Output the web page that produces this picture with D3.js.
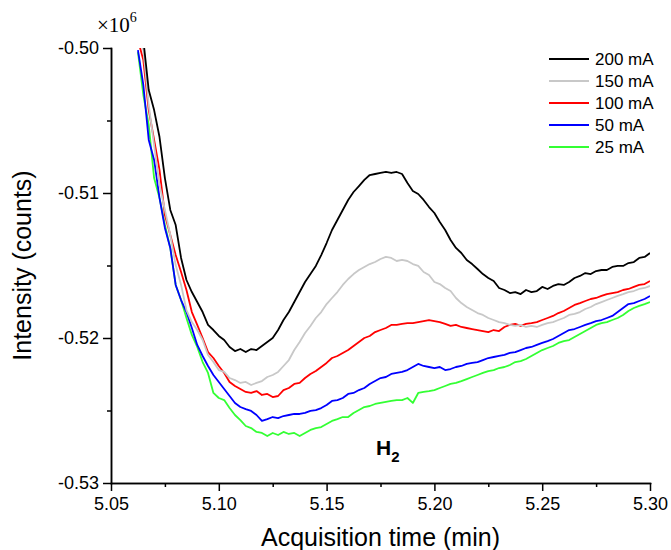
<!DOCTYPE html>
<html>
<head>
<meta charset="utf-8">
<script src="https://cdn.jsdelivr.net/npm/d3@7"></script>
<style>
  html, body { margin: 0; padding: 0; background: #fff; }
  svg { display: block; font-family: "Liberation Sans", Arial, sans-serif; }
  .axis path, .axis line { stroke: #000; stroke-width: 1.5; }
  .axis text { fill: #000; font-size: 18px; }
</style>
</head>
<body>
<div id="chart"></div>
<script>
// Acquisition time grid (min), values in units of 10^6 counts
const times = [
  5.0625, 5.065, 5.0675, 5.07, 5.0725, 5.075, 5.0775, 5.08, 5.0825, 5.085,
  5.0875, 5.09, 5.0925, 5.095, 5.0975, 5.1, 5.1025, 5.105, 5.1075, 5.11,
  5.1125, 5.115, 5.1175, 5.12, 5.1225, 5.125, 5.1275, 5.13, 5.1325, 5.135,
  5.1375, 5.14, 5.1425, 5.145, 5.1475, 5.15, 5.1525, 5.155, 5.1575, 5.16,
  5.1625, 5.165, 5.1675, 5.17, 5.1725, 5.175, 5.1775, 5.18, 5.1825, 5.185,
  5.1875, 5.19, 5.1925, 5.195, 5.1975, 5.2, 5.2025, 5.205, 5.2075, 5.21,
  5.2125, 5.215, 5.2175, 5.22, 5.2225, 5.225, 5.2275, 5.23, 5.2325, 5.235,
  5.2375, 5.24, 5.2425, 5.245, 5.2475, 5.25, 5.2525, 5.255, 5.2575, 5.26,
  5.2625, 5.265, 5.2675, 5.27, 5.2725, 5.275, 5.2775, 5.28, 5.2825, 5.285,
  5.2875, 5.29, 5.2925, 5.295, 5.2975, 5.3
];

const i200 = [
  -0.49841, -0.49945, -0.50290, -0.50428, -0.50614, -0.50897, -0.51117, -0.51221, -0.51448, -0.51600,
  -0.51683, -0.51752, -0.51821, -0.51910, -0.51945, -0.51986, -0.52014, -0.52062, -0.52090, -0.52076,
  -0.52097, -0.52076, -0.52083, -0.52055, -0.52028, -0.52000, -0.51945, -0.51876, -0.51821, -0.51752,
  -0.51683, -0.51614, -0.51559, -0.51503, -0.51428, -0.51345, -0.51255, -0.51186, -0.51117, -0.51048,
  -0.50993, -0.50952, -0.50910, -0.50876, -0.50869, -0.50862, -0.50855, -0.50862, -0.50855, -0.50869,
  -0.50931, -0.50986, -0.51007, -0.51048, -0.51097, -0.51138, -0.51200, -0.51255, -0.51324, -0.51379,
  -0.51414, -0.51462, -0.51490, -0.51524, -0.51559, -0.51586, -0.51607, -0.51655, -0.51669, -0.51690,
  -0.51683, -0.51697, -0.51669, -0.51683, -0.51676, -0.51648, -0.51662, -0.51641, -0.51628, -0.51634,
  -0.51614, -0.51586, -0.51572, -0.51552, -0.51559, -0.51538, -0.51531, -0.51531, -0.51510, -0.51503,
  -0.51503, -0.51483, -0.51476, -0.51448, -0.51441, -0.51414
];

const i150 = [
  -0.49910, -0.50014, -0.50393, -0.50669, -0.50945, -0.51117, -0.51290, -0.51497, -0.51634, -0.51807,
  -0.51890, -0.51945, -0.52014, -0.52117, -0.52166, -0.52221, -0.52234, -0.52276, -0.52290, -0.52310,
  -0.52303, -0.52324, -0.52310, -0.52297, -0.52269, -0.52255, -0.52234, -0.52193, -0.52152, -0.52083,
  -0.52028, -0.51966, -0.51917, -0.51862, -0.51821, -0.51766, -0.51724, -0.51683, -0.51634, -0.51593,
  -0.51559, -0.51531, -0.51510, -0.51490, -0.51476, -0.51455, -0.51441, -0.51448, -0.51469, -0.51462,
  -0.51469, -0.51490, -0.51503, -0.51545, -0.51566, -0.51614, -0.51628, -0.51655, -0.51676, -0.51724,
  -0.51759, -0.51786, -0.51807, -0.51828, -0.51841, -0.51862, -0.51876, -0.51890, -0.51897, -0.51910,
  -0.51917, -0.51910, -0.51924, -0.51917, -0.51924, -0.51910, -0.51897, -0.51890, -0.51876, -0.51862,
  -0.51841, -0.51834, -0.51821, -0.51800, -0.51786, -0.51766, -0.51752, -0.51738, -0.51724, -0.51710,
  -0.51697, -0.51683, -0.51676, -0.51662, -0.51655, -0.51641
];

const i100 = [
  -0.49945, -0.50083, -0.50428, -0.50634, -0.50841, -0.51152, -0.51290, -0.51428, -0.51545, -0.51669,
  -0.51821, -0.51910, -0.52000, -0.52097, -0.52138, -0.52193, -0.52241, -0.52303, -0.52331, -0.52352,
  -0.52372, -0.52379, -0.52366, -0.52393, -0.52386, -0.52407, -0.52400, -0.52359, -0.52345, -0.52317,
  -0.52310, -0.52276, -0.52248, -0.52228, -0.52200, -0.52172, -0.52138, -0.52124, -0.52103, -0.52083,
  -0.52055, -0.52028, -0.52000, -0.51986, -0.51959, -0.51945, -0.51931, -0.51910, -0.51910, -0.51903,
  -0.51897, -0.51897, -0.51890, -0.51883, -0.51876, -0.51883, -0.51890, -0.51903, -0.51917, -0.51910,
  -0.51924, -0.51931, -0.51938, -0.51945, -0.51952, -0.51959, -0.51945, -0.51952, -0.51924, -0.51910,
  -0.51903, -0.51917, -0.51903, -0.51897, -0.51890, -0.51876, -0.51862, -0.51848, -0.51828, -0.51814,
  -0.51793, -0.51772, -0.51759, -0.51745, -0.51731, -0.51724, -0.51710, -0.51697, -0.51690, -0.51683,
  -0.51669, -0.51662, -0.51648, -0.51634, -0.51628, -0.51607
];

const i50 = [
  -0.50014, -0.50255, -0.50634, -0.50772, -0.51034, -0.51241, -0.51379, -0.51634, -0.51738, -0.51821,
  -0.51931, -0.52048, -0.52124, -0.52193, -0.52255, -0.52303, -0.52352, -0.52400, -0.52448, -0.52476,
  -0.52490, -0.52503, -0.52531, -0.52572, -0.52559, -0.52545, -0.52552, -0.52538, -0.52531, -0.52524,
  -0.52524, -0.52517, -0.52503, -0.52497, -0.52483, -0.52462, -0.52434, -0.52428, -0.52414, -0.52386,
  -0.52379, -0.52359, -0.52345, -0.52317, -0.52297, -0.52276, -0.52269, -0.52248, -0.52241, -0.52234,
  -0.52221, -0.52200, -0.52179, -0.52193, -0.52200, -0.52207, -0.52200, -0.52221, -0.52214, -0.52200,
  -0.52193, -0.52179, -0.52172, -0.52166, -0.52152, -0.52138, -0.52131, -0.52124, -0.52117, -0.52103,
  -0.52097, -0.52083, -0.52069, -0.52062, -0.52048, -0.52034, -0.52021, -0.52007, -0.51986, -0.51966,
  -0.51945, -0.51938, -0.51924, -0.51910, -0.51897, -0.51883, -0.51876, -0.51862, -0.51848, -0.51821,
  -0.51793, -0.51766, -0.51759, -0.51745, -0.51731, -0.51710
];

const i25 = [
  -0.50028, -0.50324, -0.50531, -0.50897, -0.51034, -0.51221, -0.51379, -0.51634, -0.51738, -0.51862,
  -0.51979, -0.52062, -0.52166, -0.52241, -0.52379, -0.52414, -0.52428, -0.52483, -0.52531, -0.52566,
  -0.52607, -0.52621, -0.52648, -0.52655, -0.52676, -0.52655, -0.52669, -0.52648, -0.52662, -0.52655,
  -0.52676, -0.52655, -0.52634, -0.52621, -0.52614, -0.52593, -0.52572, -0.52559, -0.52545, -0.52545,
  -0.52517, -0.52497, -0.52476, -0.52469, -0.52455, -0.52448, -0.52441, -0.52434, -0.52428, -0.52428,
  -0.52414, -0.52448, -0.52379, -0.52372, -0.52366, -0.52359, -0.52345, -0.52331, -0.52317, -0.52310,
  -0.52297, -0.52283, -0.52269, -0.52255, -0.52241, -0.52228, -0.52221, -0.52207, -0.52200, -0.52186,
  -0.52166, -0.52159, -0.52145, -0.52124, -0.52103, -0.52083, -0.52069, -0.52055, -0.52034, -0.52021,
  -0.52014, -0.51993, -0.51972, -0.51952, -0.51931, -0.51910, -0.51897, -0.51890, -0.51876, -0.51862,
  -0.51841, -0.51814, -0.51793, -0.51779, -0.51766, -0.51752
];

const xTicks = [5.05, 5.10, 5.15, 5.20, 5.25, 5.30];
const xMinor = [5.075, 5.125, 5.175, 5.225, 5.275];
const yTicks = [-0.50, -0.51, -0.52, -0.53];
const yMinor = [-0.505, -0.515, -0.525];

// legend order (top to bottom); drawn in reverse so 200 mA sits on top
const series = [
  { name: '200 mA', color: '#000000', values: i200 },
  { name: '150 mA', color: '#c8c8c8', values: i150 },
  { name: '100 mA', color: '#ff0000', values: i100 },
  { name: '50 mA', color: '#0000ff', values: i50 },
  { name: '25 mA', color: '#33ff33', values: i25 },
];

const width = 671, height = 550;
const margin = { top: 48, right: 21, bottom: 67, left: 111 };
const innerW = width - margin.left - margin.right;
const innerH = height - margin.top - margin.bottom;

const svg = d3.select('#chart').append('svg')
  .attr('width', width).attr('height', height);
const g = svg.append('g').attr('transform', `translate(${margin.left},${margin.top})`);

const x = d3.scaleLinear().domain([5.05, 5.30]).range([0, innerW]);
const y = d3.scaleLinear().domain([-0.53, -0.50]).range([innerH, 0]);

svg.append('defs').append('clipPath').attr('id', 'plot-clip')
  .append('rect').attr('width', innerW).attr('height', innerH);

const line = d3.line()
  .x((d) => x(d[0]))
  .y((d) => y(d[1]));

const lines = g.append('g').attr('clip-path', 'url(#plot-clip)');
series.slice().reverse().forEach((s) => {
  lines.append('path')
    .datum(times.map((t, i) => [t, s.values[i]]))
    .attr('fill', 'none')
    .attr('stroke', s.color)
    .attr('stroke-width', 1.8)
    .attr('stroke-linejoin', 'round')
    .attr('d', line);
});

// axes: left + bottom only, ticks pointing out
g.append('g').attr('class', 'axis')
  .call(d3.axisLeft(y).tickValues(yMinor).tickSize(4).tickFormat('').tickSizeOuter(0));
g.append('g').attr('class', 'axis')
  .call(d3.axisLeft(y).tickValues(yTicks).tickSize(8).tickPadding(4)
    .tickFormat((d) => d.toFixed(2)).tickSizeOuter(0));

g.append('g').attr('class', 'axis').attr('transform', `translate(0,${innerH})`)
  .call(d3.axisBottom(x).tickValues(xMinor).tickSize(4).tickFormat('').tickSizeOuter(0));
g.append('g').attr('class', 'axis').attr('transform', `translate(0,${innerH})`)
  .call(d3.axisBottom(x).tickValues(xTicks).tickSize(8).tickPadding(6)
    .tickFormat((d) => d.toFixed(2)).tickSizeOuter(0));

g.selectAll('.axis .domain').attr('stroke-linecap', 'square');

// axis titles
svg.append('text')
  .attr('x', margin.left + innerW / 2).attr('y', 546)
  .attr('text-anchor', 'middle')
  .style('font-size', '25px')
  .text('Acquisition time (min)');

svg.append('text')
  .attr('transform', `translate(31,${margin.top + innerH / 2}) rotate(-90)`)
  .attr('text-anchor', 'middle')
  .style('font-size', '25px')
  .text('Intensity (counts)');

// ×10^6 multiplier
const mult = svg.append('text')
  .attr('x', 97).attr('y', 32)
  .style('font-family', '"Liberation Serif", "Times New Roman", serif')
  .style('font-size', '21px');
mult.append('tspan').text('×10');
mult.append('tspan').attr('dy', -10).style('font-size', '14px').text('6');

// H2 annotation
const h2 = svg.append('text')
  .attr('x', 376).attr('y', 455)
  .style('font-weight', 'bold')
  .style('font-size', '21px');
h2.append('tspan').text('H');
h2.append('tspan').attr('dy', 7).style('font-size', '15px').text('2');

// legend
const legend = svg.append('g').attr('transform', 'translate(549,59)');
series.forEach((s, i) => {
  const row = legend.append('g').attr('transform', `translate(0,${i * 22})`);
  row.append('line').attr('x1', 0).attr('x2', 40)
    .attr('stroke', s.color).attr('stroke-width', 2);
  row.append('text').attr('x', 46).attr('dy', '0.35em')
    .style('font-size', '17px')
    .text(s.name);
});
</script>
</body>
</html>
